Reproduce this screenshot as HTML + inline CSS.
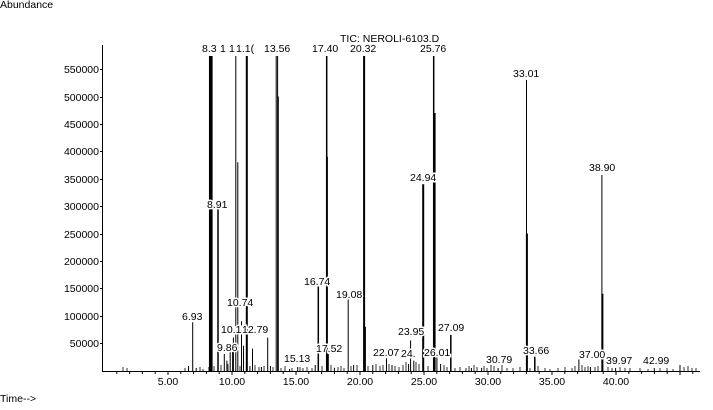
<!DOCTYPE html>
<html><head><style>
body{margin:0;background:#fff;}
svg text{font-family:"Liberation Sans",sans-serif;font-size:10.5px;fill:#000;}
.l text{stroke:#fff;stroke-width:3px;paint-order:stroke;}
</style></head><body>
<svg width="713" height="405" viewBox="0 0 713 405" xmlns="http://www.w3.org/2000/svg">
<rect width="713" height="405" fill="#fff"/>
<text x="0" y="8">Abundance</text>
<text x="0" y="402">Time--&gt;</text>
<text x="340" y="42">TIC: NEROLI-6103.D</text>
<line x1="102.5" y1="45" x2="102.5" y2="371" stroke="#000"/>
<line x1="102" y1="371.5" x2="700" y2="371.5" stroke="#000"/>
<path stroke="#000" d="M100 69.5H103M100 97.5H103M100 124.5H103M100 151.5H103M100 179.5H103M100 206.5H103M100 234.5H103M100 261.5H103M100 288.5H103M100 316.5H103M100 343.5H103"/>
<g text-anchor="end">
<text x="99" y="73">550000</text><text x="99" y="101">500000</text>
<text x="99" y="128">450000</text><text x="99" y="155">400000</text>
<text x="99" y="183">350000</text><text x="99" y="210">300000</text>
<text x="99" y="238">250000</text><text x="99" y="265">200000</text>
<text x="99" y="292">150000</text><text x="99" y="320">100000</text>
<text x="99" y="347">50000</text>
</g>
<path stroke="#000" d="M116.8 371V374M129.6 371V374M142.4 371V374M155.2 371V374M168 371V375M180.8 371V374M193.6 371V374M206.4 371V374M219.2 371V374M232 371V375M244.8 371V374M257.6 371V374M270.4 371V374M283.2 371V374M296 371V375M308.8 371V374M321.6 371V374M334.4 371V374M347.2 371V374M360 371V375M372.8 371V374M385.6 371V374M398.4 371V374M411.2 371V374M424 371V375M436.8 371V374M449.6 371V374M462.4 371V374M475.2 371V374M488 371V375M500.8 371V374M513.6 371V374M526.4 371V374M539.2 371V374M552 371V375M564.8 371V374M577.6 371V374M590.4 371V374M603.2 371V374M616 371V375M628.8 371V374M641.6 371V374M654.4 371V374M667.2 371V374M680 371V375M692.8 371V374"/>
<g text-anchor="middle">
<text x="168" y="385">5.00</text><text x="232" y="385">10.00</text>
<text x="296" y="385">15.00</text><text x="360" y="385">20.00</text>
<text x="424" y="385">25.00</text><text x="488" y="385">30.00</text>
<text x="552" y="385">35.00</text><text x="616" y="385">40.00</text>
</g>
<path stroke="#000" stroke-width="0.8" d="M123 371V367M127 371V368M185 371V368M200 371V367M203 371V369M214 371V366M221 371V365M228 371V364M240 371V366M255 371V365M259 371V367M264 371V366M273 371V367M281 371V368M285 371V366M292 371V368M300 371V367M303 371V368M307 371V367M312 371V368M322 371V366M331 371V365M338 371V367M341 371V366M344 371V368M351 371V366M357 371V365M368 371V366M376 371V364M380 371V366M383 371V365M389 371V364M395 371V366M399 371V367M403 371V365M406 371V362M416 371V362M419 371V364M428 371V366M444 371V365M447 371V367M455 371V368M460 371V367M466 371V368M469 371V366M474 371V365M477 371V367M484 371V366M487 371V368M491 371V365M494 371V366M502 371V365M507 371V368M513 371V368M520 371V367M530 371V368M538 371V366M545 371V368M550 371V369M558 371V368M565 371V367M572 371V368M575 371V366M582 371V365M585 371V367M588 371V366M595 371V367M598 371V366M608 371V367M612 371V368M620 371V367M625 371V368M630 371V368M640 371V368M648 371V369M660 371V368M667 371V368M673 371V369M684 371V367M688 371V366M692 371V368M696 371V368"/>
<path stroke="#000" fill="none" d="M192.7 371V322.3M188.5 371V366M196.2 371V368M209 371V367M224.3 371V354M226.9 371V360.6M230.2 371V351.3M232.6 371V343M233.4 371V337.6M235.8 371V56M237.8 371V162.3M241.5 371V321.2M243.5 371V345.8M249.9 371V366M252.5 371V348.6M261.4 371V367M267.7 371V337.6M270.4 371V366M276.2 371V56M277.6 371V56M278.3 371V96.5M289.6 371V369M297.7 371V367M315.2 371V365M327.4 371V156.8M328.3 371V354M334.4 371V367.8M348.2 371V295M353.6 371V365M365.4 371V326.7M372.8 371V365M386.5 371V358.4M392 371V365M408.6 371V364M410.6 371V340.4M413.8 371V360.6M436.9 371V354M440.6 371V364M471.4 371V368M481.6 371V368M498.1 371V368M526.5 371V80M578.9 371V359.5M590.4 371V367M601.9 371V175M615.6 371V368M654.3 371V368M680 371V365"/>
<path stroke="#000" stroke-width="2.5" d="M210.2 371V56"/>
<path stroke="#000" stroke-width="2" d="M211.6 371V56M246.8 371V56M364.1 371V56M423.2 371V184.2M434.6 371V113M526.9 371V233.5M602.4 371V293.8"/>
<path stroke="#000" stroke-width="1.5" d="M218 371V206M318.3 371V285M326.7 371V56M433.7 371V56M450.8 371V334.9M534.8 371V356.8"/>
<g class="l">
<text x="182" y="320">6.93</text>
<text x="202" y="52">8.3</text>
<text x="207" y="208">8.91</text>
<text x="220" y="52">1</text><text x="229" y="52">1</text><text x="236" y="52">1.1(</text>
<text x="264" y="52">13.56</text>
<text x="312" y="52">17.40</text><text x="350" y="52">20.32</text><text x="420" y="52">25.76</text>
<text x="513" y="77">33.01</text>
<text x="589" y="171">38.90</text>
<text x="410" y="181">24.94</text>
<text x="227" y="306">10.74</text>
<text x="221" y="333">10.11</text><text x="242" y="333">12.79</text>
<text x="217" y="351">9.86</text>
<text x="304" y="285">16.74</text>
<text x="336" y="298">19.08</text>
<text x="398" y="335">23.95</text><text x="438" y="331">27.09</text>
<text x="316" y="352">17.52</text>
<text x="373" y="356">22.07</text>
<text x="401" y="357">24.</text><text x="424" y="356">26.01</text>
<text x="284" y="362">15.13</text>
<text x="523" y="354">33.66</text>
<text x="486" y="363">30.79</text>
<text x="606" y="364">39.97</text><text x="643" y="364">42.99</text>
<text x="579" y="358">37.00</text>
</g>
</svg>
</body></html>
